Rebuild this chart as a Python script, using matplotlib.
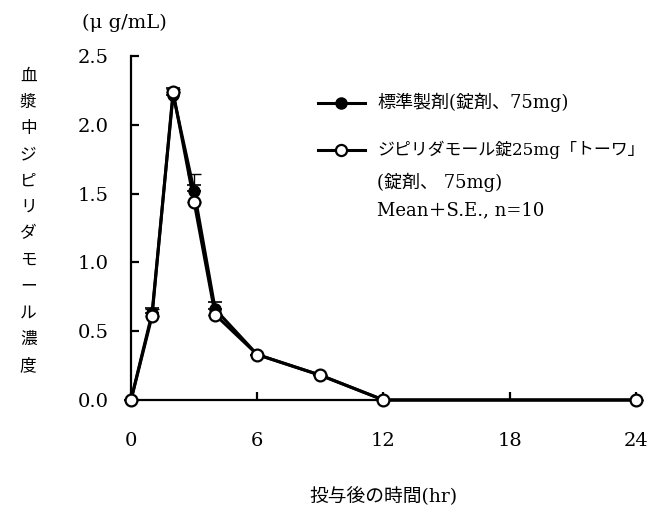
import matplotlib
matplotlib.use('Agg')
import matplotlib.pyplot as plt
from matplotlib.lines import Line2D
import numpy as np

plt.rcParams['font.family'] = ['DejaVu Serif', 'Noto Sans CJK JP']

# 投与後の時間(hr)
hours = [0, 1, 2, 3, 4, 6, 9, 12, 24]
# 標準製剤(錠剤、75mg)
std_mean = [0.0, 0.63, 2.22, 1.52, 0.66, 0.33, 0.18, 0.0, 0.0]
std_se = [0.0, 0.04, 0.05, 0.04, 0.05, 0.0, 0.0, 0.0, 0.0]
# ジピリダモール錠25mg「トーワ」(錠剤、75mg)
test_mean = [0.0, 0.61, 2.24, 1.44, 0.62, 0.33, 0.18, 0.0, 0.0]
test_se = [0.0, 0.05, 0.02, 0.20, 0.0, 0.0, 0.0, 0.0, 0.0]

xticks = [0, 6, 12, 18, 24]
yticks = [0.0, 0.5, 1.0, 1.5, 2.0, 2.5]

ylabel_text = '血漿中ジピリダモール濃度'

fig = plt.figure(figsize=(6.56, 5.14), dpi=100)
ax = fig.add_axes([0.1997, 0.2218, 0.7698, 0.6692])

z = np.zeros(len(hours))
ax.errorbar(hours, std_mean, yerr=[z, std_se], fmt='none', ecolor='black',
            elinewidth=1.0, capsize=5, capthick=1.2, clip_on=False, zorder=2)
ax.errorbar(hours, test_mean, yerr=[z, test_se], fmt='none', ecolor='black',
            elinewidth=1.0, capsize=5, capthick=1.0, clip_on=False, zorder=2)
ax.plot(hours, std_mean, color='black', lw=2.2, marker='o', ms=8,
        mfc='black', mec='black', clip_on=False, zorder=3)
ax.plot(hours, test_mean, color='black', lw=2.2, marker='o', ms=8.5,
        mfc='white', mec='black', mew=1.6, clip_on=False, zorder=4)

ax.set_xlim(0, 24)
ax.set_ylim(0, 2.5)
ax.set_xticks(xticks)
ax.set_yticks(yticks)
ax.set_yticklabels(['%.1f' % v for v in yticks])
ax.spines['top'].set_visible(False)
ax.spines['right'].set_visible(False)
ax.spines['left'].set_linewidth(1.6)
ax.spines['bottom'].set_linewidth(1.6)
ax.tick_params(axis='both', direction='in', length=6, width=1.6, labelsize=14)
ax.tick_params(axis='x', pad=23)
ax.tick_params(axis='y', pad=16)

# 単位
fig.text(0.189, 0.955, '(μ g/mL)', ha='center', va='center', fontsize=14)

# 縦書きの軸ラベル
for i, ch in enumerate(ylabel_text):
    fig.text(0.043, 1 - (76 + i * 26.3) / 514, ch, ha='center', va='center',
             fontsize=12)

fig.text(0.584, 0.033, '投与後の時間(hr)', ha='center', va='center', fontsize=13.5)

# 凡例
fig.add_artist(Line2D([0.485, 0.556], [0.800, 0.800], color='black', lw=2.2,
                      transform=fig.transFigure))
fig.add_artist(Line2D([0.520], [0.800], color='black', marker='o', ms=8,
                      mfc='black', transform=fig.transFigure))
fig.add_artist(Line2D([0.485, 0.556], [0.708, 0.708], color='black', lw=2.2,
                      transform=fig.transFigure))
fig.add_artist(Line2D([0.520], [0.708], color='black', marker='o', ms=8,
                      mfc='white', mew=1.6, transform=fig.transFigure))
fig.text(0.575, 0.800, '標準製剤(錠剤、75mg)', ha='left', va='center', fontsize=13)
fig.text(0.575, 0.708, 'ジピリダモール錠25mg「トーワ」', ha='left', va='center',
         fontsize=12.2)
fig.text(0.575, 0.646, '(錠剤、 75mg)', ha='left', va='center', fontsize=13)
fig.text(0.575, 0.591, 'Mean＋S.E., n=10', ha='left', va='center', fontsize=13)

fig.savefig('out.png', dpi=100)
